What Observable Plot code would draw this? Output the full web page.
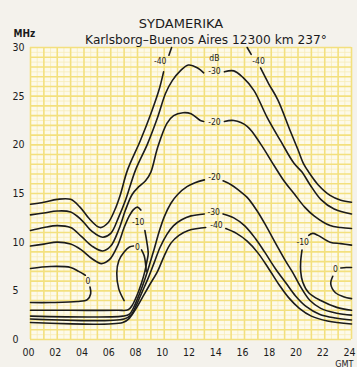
<!DOCTYPE html>
<html><head><meta charset="utf-8">
<script src="https://cdn.jsdelivr.net/npm/d3@7"></script>
<script src="https://cdn.jsdelivr.net/npm/@observablehq/plot@0.6"></script>
<style>
html,body{margin:0;padding:0;background:#f4f2ec;}
</style></head><body><div id="chart"></div>
<script>
// ---- texts & ticks ----
const title = "SYDAMERIKA";
const subtitle = "Karlsborg–Buenos Aires 12300 km 237°";
const yUnit = "MHz";
const xUnit = "GMT";
const hourTicks = [0,2,4,6,8,10,12,14,16,18,20,22,24];
const hourLabels = ["00","02","04","06","08","10","12","14","16","18","20","22","24"];
const mhzTicks = [0,5,10,15,20,25,30];

// ---- contour segments [hour GMT, MHz] ----
const m40a = [[0,13.9],[1,14.1],[2,14.4],[3,14.4],[3.7,13.6],[4.4,12.4],[5.2,11.5],[5.8,12.0],[6.3,13.3],[6.7,14.8],[7.25,17.4],[8.2,20.4],[9.0,23.2],[9.6,25.6],[9.95,27.5]];
const m40b = [[10.35,29.2],[10.55,30]];
const m40c = [[16.2,30],[16.5,29.3]];
const m40d = [[17.2,27.9],[17.8,26.3],[18.5,24.6],[19.4,21.5],[20.0,19.5],[20.4,18.1],[20.8,17.2],[21.5,15.9],[22.4,14.8],[23.2,14.3],[24,14.1]];
const m30a = [[0,12.8],[1,13.0],[2,13.2],[3,13.1],[3.8,12.3],[4.6,11.1],[5.4,10.5],[6.0,10.9],[6.6,12.6],[7.1,14.3],[7.85,17.4],[8.75,20.1],[9.5,22.8],[10.1,25.3],[10.6,26.6],[11.2,27.6],[11.8,28.2],[12.5,27.9],[12.95,27.4]];
const m30b = [[14.5,27.5],[15.2,27.6],[15.9,26.9],[16.7,25.6],[17.7,22.8],[18.7,20.4],[19.7,18.1],[20.3,17.2],[20.9,15.9],[21.7,14.4],[22.7,13.4],[24,12.9]];
const m20a = [[0,11.2],[1,11.5],[2,11.7],[3,11.5],[3.8,10.6],[4.6,9.6],[5.4,9.1],[6.0,9.6],[6.6,11.3],[7.1,13.3],[7.6,14.9],[8.1,15.7],[8.6,16.3],[9.0,17.2],[9.5,19.7],[10.2,22.2],[10.7,23.0],[11.4,23.3],[12.0,23.2],[12.7,22.5],[12.95,22.4]];
const m20b = [[14.5,22.4],[15.2,22.5],[16.2,21.9],[17.2,20.1],[18.2,17.9],[19.0,16.2],[19.7,15.0],[20.5,13.6],[21.2,12.7],[22.4,11.7],[23.2,11.5],[24,11.4]];
const m10a = [[0,9.6],[1,9.8],[2,10.0],[3,9.8],[3.8,9.2],[4.6,8.3],[5.3,7.8],[5.9,8.2],[6.5,9.6],[7.0,11.5],[7.35,12.6],[7.7,13.35],[8.0,13.6],[8.25,13.3]];
const m10b = [[8.55,11.2],[8.7,10.0],[8.8,8.8],[8.7,8.0],[8.55,7.0],[8.3,5.8],[7.95,4.5],[7.6,3.5],[7.3,3.05],[6.5,3.0],[3,3.0],[0,3.0]];
const m10c = [[24,9.7],[23.2,9.85],[22.4,10.0],[21.5,10.7],[21.1,10.9],[20.8,10.7]];
const m10d = [[20.3,9.2],[20.2,8.0],[20.2,7.0],[20.35,5.9],[20.8,4.8],[21.7,4.0],[22.9,3.3],[24,3.0]];
const z0a = [[0,7.3],[1.5,7.5],[3.0,7.4],[3.6,7.0],[4.1,6.6]];
const z0b = [[4.45,5.4],[4.5,4.7],[4.25,4.1],[3.5,3.9],[1.5,3.8],[0,3.8]];
const z0c = [[7.0,4.0],[6.6,5.2],[6.45,6.8],[6.6,8.1],[7.0,9.0],[7.4,9.5],[7.7,9.6]];
const z0d = [[8.3,9.2],[8.5,8.6],[8.6,7.8],[8.65,7.0]];
const z0e = [[24,7.4],[23.6,7.4],[23.2,7.35]];
const z0f = [[22.6,6.5],[22.45,5.7],[22.8,4.8],[23.4,4.4],[24,4.2]];
const m20c = [[0,2.4],[6.9,2.4],[7.4,2.6],[7.75,3.4],[8.15,4.7],[8.55,6.2],[8.9,7.7],[9.25,9.3],[9.6,11.0],[10.0,12.6],[10.5,14.0],[11.0,14.9],[11.7,15.7],[12.3,16.1],[13.0,16.4]];
const m20d = [[14.4,16.3],[15.0,15.9],[15.6,15.3],[16.2,14.6],[16.9,13.3],[17.6,11.7],[18.4,9.7],[19.1,8.0],[19.6,6.9],[20.2,5.4],[20.9,4.0],[21.7,3.2],[22.9,2.7],[24,2.5]];
const m30c = [[0,2.1],[7.0,2.1],[7.5,2.5],[7.9,3.5],[8.35,4.9],[8.8,6.3],[9.25,7.9],[9.7,9.5],[10.2,10.8],[10.7,11.7],[11.3,12.3],[12.0,12.7],[13.0,12.9]];
const m30d = [[14.4,12.9],[15.2,12.5],[16.0,11.7],[16.8,10.4],[17.5,9.0],[18.3,7.3],[19.1,5.8],[19.8,4.5],[20.6,3.4],[21.6,2.6],[22.8,2.2],[24,2.0]];
const m40e = [[0,1.75],[6.9,1.75],[7.4,2.2],[7.9,3.2],[8.4,4.4],[8.9,5.6],[9.5,7.0],[10.0,8.6],[10.5,9.9],[11.1,10.7],[11.8,11.2],[12.5,11.4],[13.1,11.5]];
const m40f = [[14.6,11.4],[15.4,10.9],[16.2,10.1],[17.0,8.9],[17.8,7.3],[18.6,5.6],[19.3,4.3],[20.1,3.2],[21.0,2.4],[22.2,1.9],[24,1.6]];

// ---- contour labels ----
const labelText = ["-40","-40","dB","-30","-20","-20","-30","-40","-10","0","0","-10","0"];
const labelHour = [9.7,17.05,13.75,13.75,13.75,13.75,13.7,13.9,8.05,8.0,4.3,20.35,22.8];
const labelMHz  = [28.55,28.55,28.85,27.6,22.3,16.7,13.1,11.7,12.0,9.5,6.0,10.0,7.2];

// ---- build tables ----
const segments = {m40a,m40b,m40c,m40d,m30a,m30b,m20a,m20b,m10a,m10b,m10c,m10d,z0a,z0b,z0c,z0d,z0e,z0f,m20c,m20d,m30c,m30d,m40e,m40f};
const rows = [];
for (const [name, pts] of Object.entries(segments)) for (const [h,f] of pts) rows.push({seg:name,h,f});
const labels = labelText.map((t,i)=>({t,h:labelHour[i],f:labelMHz[i]}));

const font = "'DejaVu Sans Condensed','Liberation Sans Narrow','DejaVu Sans',sans-serif";
const wide = "'DejaVu Sans',sans-serif";
const ink = "#1b1b1b";

const chart = Plot.plot({
  width: 357, height: 367,
  marginLeft: 30, marginRight: 6, marginTop: 47, marginBottom: 28,
  style: {background: "transparent", fontFamily: font, overflow: "visible"},
  x: {domain: [0,24], axis: null},
  y: {domain: [0,30], axis: null},
  marks: [
    Plot.frame({fill: "#fdfaea", stroke: null}),
    Plot.gridX({ticks: d3.range(0.5,24,1), stroke: "#f7ecb8", strokeOpacity: 1, strokeWidth: 0.8}),
    Plot.gridY({ticks: d3.range(0.5,30,1), stroke: "#f7ecb8", strokeOpacity: 1, strokeWidth: 0.8}),
    Plot.gridX({ticks: d3.range(0,24.01,1), stroke: "#f3e07e", strokeOpacity: 1, strokeWidth: 1.6}),
    Plot.gridY({ticks: d3.range(0,30.01,1), stroke: "#f3e07e", strokeOpacity: 1, strokeWidth: 1.6}),
    Plot.line(rows, {x: "h", y: "f", z: "seg", curve: "catmull-rom", stroke: ink, strokeWidth: 1.6, strokeLinecap: "round"}),
    Plot.text(labels, {x: "h", y: "f", text: "t", fontSize: 8.5, fill: ink}),
    Plot.text(hourTicks, {x: d => d, y: 0, text: (d,i) => hourLabels[i], dy: 13, dx: -2, fontSize: 10.5, fill: ink}),
    Plot.text(mhzTicks, {y: d => d, frameAnchor: "left", dx: -18, textAnchor: "start", text: d => String(d), fontSize: 10.5, fill: ink}),
    Plot.text([yUnit], {frameAnchor: "top-left", lineAnchor: "middle", dx: -17, dy: -14, textAnchor: "start", text: d => d, fontSize: 10, fontWeight: "bold", fill: ink}),
    Plot.text([xUnit], {frameAnchor: "bottom-right", lineAnchor: "bottom", dx: 2, dy: 27, textAnchor: "end", text: d => d, fontSize: 9, fill: ink}),
    Plot.text([title], {frameAnchor: "top", lineAnchor: "middle", dx: -10, dy: -24, text: d => d, fontSize: 13, fontFamily: wide, fill: ink}),
    Plot.text([subtitle], {frameAnchor: "top", lineAnchor: "middle", dx: 15, dy: -7, text: d => d, fontSize: 12.2, fontFamily: wide, fill: ink})
  ]
});
document.getElementById("chart").appendChild(chart);
</script></body></html>
